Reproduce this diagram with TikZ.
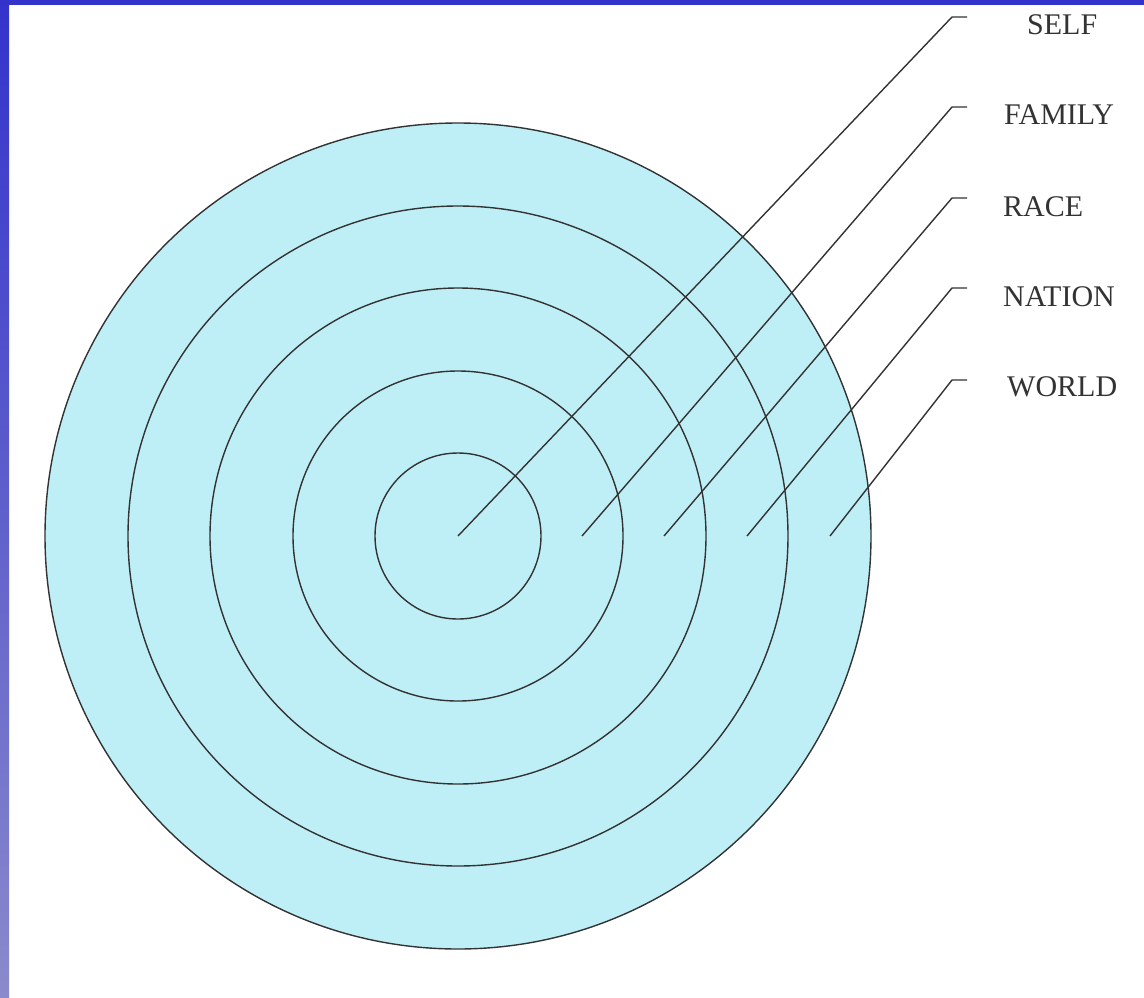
\documentclass[tikz,border=0pt]{standalone}
\usepackage{fontspec}
\setmainfont{Liberation Serif}
\definecolor{ringfill}{HTML}{BFEFF6}
\definecolor{edgegray}{HTML}{333333}
\definecolor{framebluetop}{HTML}{3333CC}
\definecolor{framebluebot}{HTML}{8A8ACC}
\tikzset{
  ring/.style={circle, draw=edgegray, line width=1.4pt, fill=ringfill, inner sep=0pt},
  leader/.style={draw=edgegray, line width=1.4pt},
  tag/.style={anchor=west, inner sep=0pt, text=black!80, font=\fontsize{30}{36}\selectfont}
}
\begin{document}
\begin{tikzpicture}[x=1pt, y=-1pt]
            \useasboundingbox (0,0) rectangle (1144,997);
            \fill[white] (0,0) rectangle (1144,997);
            % frame strips
            \fill[framebluetop] (0,0) rectangle (1144,5);
            \shade[top color=framebluetop, bottom color=framebluebot] (0,0) rectangle (9,997);
            % rings, outer first
            \node[ring, minimum size=826pt] (world) at (458, 536) {};
            \node[ring, minimum size=660pt] (nation) at (458, 536) {};
            \node[ring, minimum size=496pt] (race) at (458, 536) {};
            \node[ring, minimum size=330pt] (family) at (458, 536) {};
            \node[ring, minimum size=166pt] (self) at (458, 536) {};
            % start points of the leaders
            \coordinate (s1) at (458, 536);
            \coordinate (s2) at (582, 536);
            \coordinate (s3) at (664, 536);
            \coordinate (s4) at (747, 536);
            \coordinate (s5) at (830, 536);
            % labels
            \node[tag] (lself) at (1027, 25) {SELF};
            \node[tag] (lfamily) at (1004, 115) {FAMILY};
            \node[tag] (lrace) at (1003, 207) {RACE};
            \node[tag] (lnation) at (1003, 297) {NATION};
            \node[tag] (lworld) at (1007, 387) {WORLD};
            % bends and ends of the leaders
            \coordinate (b1) at (952, 17);  \coordinate (e1) at (967, 17);
            \coordinate (b2) at (952, 107); \coordinate (e2) at (967, 107);
            \coordinate (b3) at (952, 198); \coordinate (e3) at (967, 198);
            \coordinate (b4) at (952, 288); \coordinate (e4) at (967, 288);
            \coordinate (b5) at (952, 380); \coordinate (e5) at (967, 380);
            % leaders
            \foreach \i in {1,...,5}
                \draw[leader] (s\i) -- (b\i) -- (e\i);
\end{tikzpicture}
\end{document}
